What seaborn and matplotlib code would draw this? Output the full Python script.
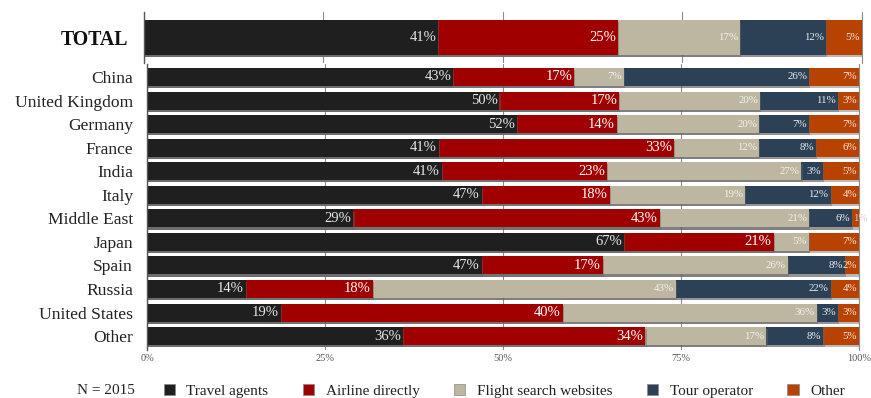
import numpy as np
import pandas as pd
import matplotlib
matplotlib.use("Agg")
import matplotlib.pyplot as plt
import matplotlib.patheffects as pe
from matplotlib.patches import Patch
import seaborn as sns

# ---- data (percent of respondents per region) -------------------------
channels = ["Travel agents", "Airline directly", "Flight search websites",
            "Tour operator", "Other"]
colors = ["#1f1f1f", "#a00000", "#bdb6a1", "#2c4156", "#b84200"]
label_colors = ["#e6e6e6", "#ffffff", "#f4f1ea", "#e8ecf0", "#f7e6da"]

total_label = "TOTAL"
total_values = [41, 25, 17, 12, 5]

regions = ["China", "United Kingdom", "Germany", "France", "India", "Italy",
           "Middle East", "Japan", "Spain", "Russia", "United States", "Other"]
travel_agents = [43, 50, 52, 41, 41, 47, 29, 67, 47, 14, 19, 36]
airline_directly = [17, 17, 14, 33, 23, 18, 43, 21, 17, 18, 40, 34]
flight_search = [7, 20, 20, 12, 27, 19, 21, 5, 26, 43, 36, 17]
tour_operator = [26, 11, 7, 8, 3, 12, 6, 0, 8, 22, 3, 8]
other = [7, 3, 7, 6, 5, 4, 1, 7, 2, 4, 3, 5]

xticks = [0, 25, 50, 75, 100]
xtick_labels = ["0%", "25%", "50%", "75%", "100%"]
sample_note = "N = 2015"

# ---- style ------------------------------------------------------------
sns.set_style("white")
plt.rcParams["font.family"] = ["Liberation Serif", "DejaVu Serif"]

W, H = 871, 398
fig = plt.figure(figsize=(W / 100, H / 100), dpi=100)


def rect(left, top, right, bottom):
    return [left / W, 1 - bottom / H, (right - left) / W, (bottom - top) / H]


ax_top = fig.add_axes(rect(143.5, 12, 862, 63))
ax_bot = fig.add_axes(rect(147, 64, 859, 350))

shadow = [pe.SimplePatchShadow(offset=(0.8, -1.6), shadow_rgbFace="#666666",
                               alpha=0.45), pe.Normal()]


def stacked(ax, cats, table, bar_w, big_size, small_size):
    table = np.asarray(table, dtype=float)  # shape (n_cats, n_channels)
    # rounded shares do not always add to exactly 100: stack them as shares
    shares = table / table.sum(axis=1, keepdims=True) * 100
    cum = np.cumsum(shares, axis=1)
    # longest cumulative layer first, shorter ones painted over it
    for j in range(len(channels) - 1, -1, -1):
        df = pd.DataFrame({"cat": cats, "val": cum[:, j]})
        sns.barplot(data=df, x="val", y="cat", orient="h", color=colors[j],
                    saturation=1, width=bar_w, errorbar=None, ax=ax,
                    linewidth=0)
    for p in ax.patches:
        p.set_path_effects(shadow)
    for i in range(len(cats)):
        for j in range(len(channels)):
            v = table[i, j]
            if v <= 0:
                continue
            end = cum[i, j]
            size = big_size if j < 2 else small_size
            txt = f"{int(v)}%"
            if v < 2:
                ax.annotate(txt, (end - shares[i, j], i), xytext=(1, 0),
                            textcoords="offset points", ha="left",
                            va="center", fontsize=size,
                            color="#cfcfcf", annotation_clip=False)
            else:
                ax.annotate(txt, (end, i), xytext=(-1.4, 0),
                            textcoords="offset points", ha="right",
                            va="center", fontsize=size,
                            color=label_colors[j])
    ax.set_xlim(0, 100)
    ax.set_xticks(xticks)
    ax.xaxis.grid(True, color="#8a8a8a", linewidth=0.8)
    ax.yaxis.grid(False)
    ax.set_axisbelow(True)
    for s in ["top", "right", "bottom"]:
        ax.spines[s].set_visible(False)
    ax.spines["left"].set_color("#555555")
    ax.spines["left"].set_linewidth(1.0)
    ax.set_xlabel("")
    ax.set_ylabel("")
    ax.axvline(100, color="#8a8a8a", linewidth=0.8, clip_on=False, zorder=0)


# TOTAL bar
stacked(ax_top, [total_label], [total_values], 0.686, 10.5, 7.8)
ax_top.set_ylim(0.5, -0.5)
ax_top.tick_params(axis="x", labelbottom=False, length=0)
ax_top.tick_params(axis="y", length=0, pad=11, labelsize=14.3)
for t in ax_top.get_yticklabels():
    t.set_fontweight("bold")
    t.set_color("#111111")

# Per-region bars
table = np.column_stack([travel_agents, airline_directly, flight_search,
                         tour_operator, other])
stacked(ax_bot, regions, table, 0.765, 10.5, 7.8)
ax_bot.set_ylim(len(regions) - 1 + 0.59, -0.55)
ax_bot.set_xticklabels(xtick_labels)
ax_bot.tick_params(axis="x", length=0, pad=3, labelsize=7.5,
                   labelcolor="#555555")
ax_bot.tick_params(axis="y", length=0, pad=10, labelsize=12.6,
                   labelcolor="#222222")

# Legend row
handles = [Patch(facecolor=c, edgecolor="#888888", linewidth=0.5, label=n)
           for c, n in zip(colors, channels)]
fig.legend(handles=handles, loc="center", bbox_to_anchor=(0.579, 0.018),
           ncol=5, frameon=False, fontsize=11, handlelength=0.75,
           handleheight=0.75, handletextpad=0.75, columnspacing=2.25,
           labelcolor="#222222")
fig.text(77 / W, 0.018, sample_note, va="center", ha="left", fontsize=11,
         color="#222222")

fig.savefig("out.png", dpi=100)
